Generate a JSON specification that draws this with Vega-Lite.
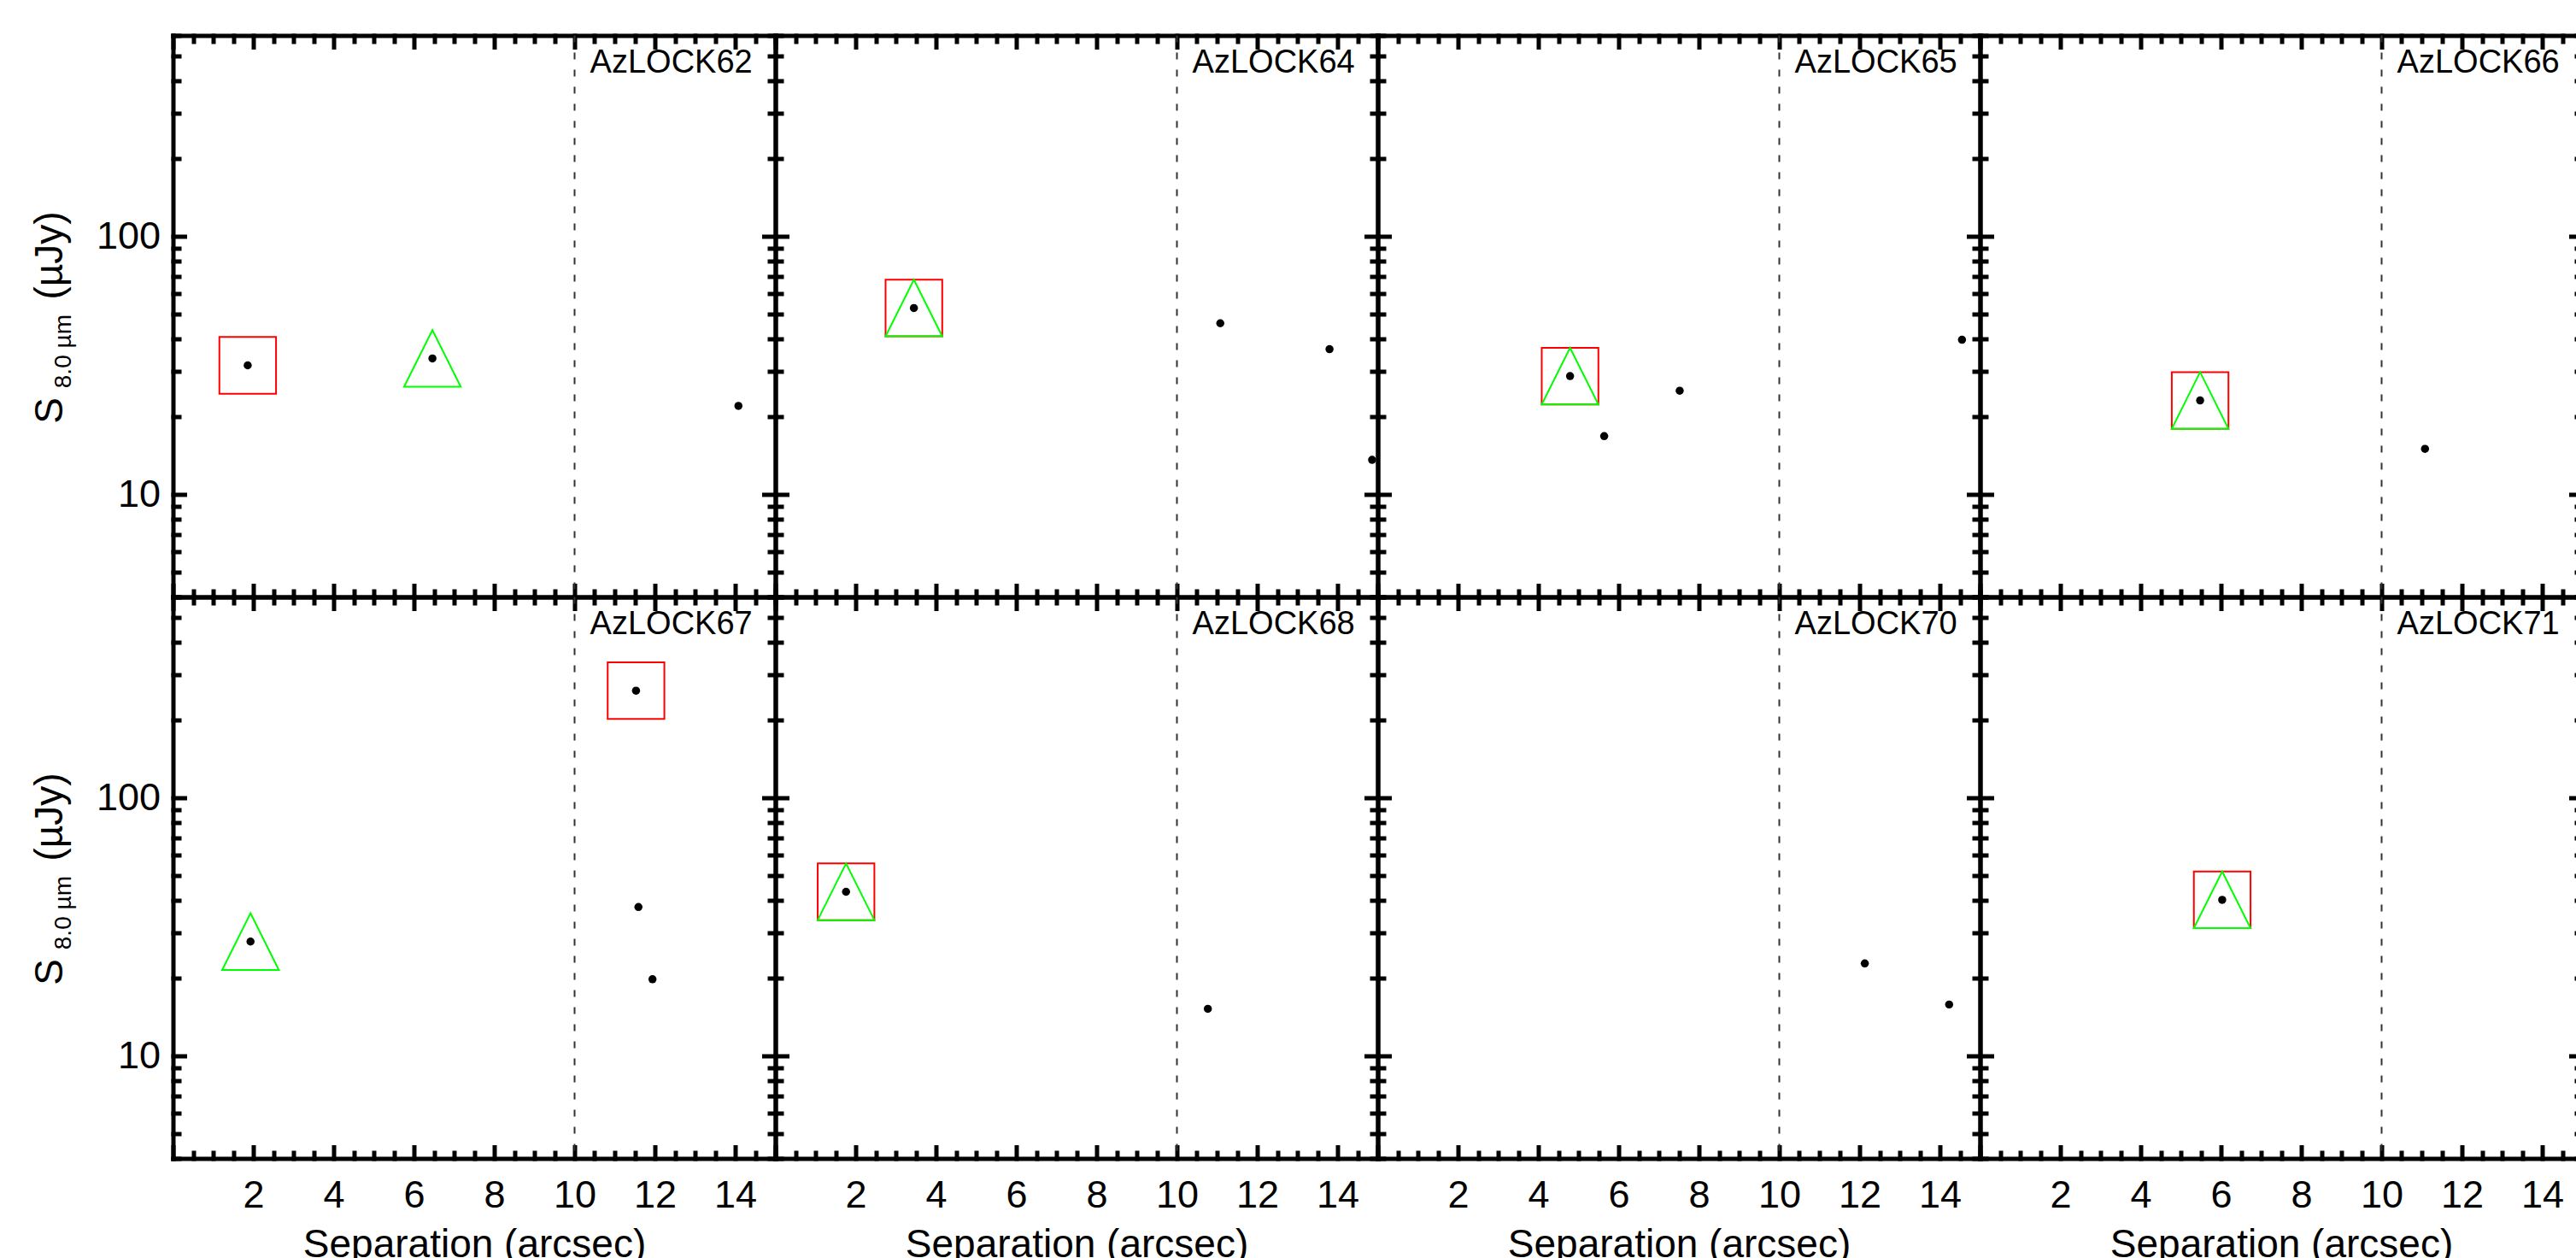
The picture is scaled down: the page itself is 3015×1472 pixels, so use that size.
{
  "$schema": "https://vega.github.io/schema/vega-lite/v6.json",
  "padding": {"left": 35.5, "top": 19.5, "right": 0, "bottom": 0},
  "background": "white",
  "columns": 4,
  "spacing": 0,
  "bounds": "flush",
  "config": {
    "view": {"stroke": null},
    "font": "Liberation Sans",
    "axis": {
      "grid": false,
      "domainColor": "black",
      "domainWidth": 5,
      "domainCap": "square",
      "tickColor": "black",
      "tickWidth": 5,
      "tickCap": "square",
      "labelColor": "black",
      "labelFont": "Liberation Sans",
      "labelFontSize": 45,
      "labelOverlap": false,
      "labelFlush": false,
      "titleFont": "Liberation Sans",
      "titleFontSize": 46,
      "titleFontWeight": "normal",
      "titleColor": "black"
    }
  },
  "datasets": {
    "panels": [
      {"panel": "AzLOCK62"}, {"panel": "AzLOCK64"}, {"panel": "AzLOCK65"}, {"panel": "AzLOCK66"},
      {"panel": "AzLOCK67"}, {"panel": "AzLOCK68"}, {"panel": "AzLOCK70"}, {"panel": "AzLOCK71"}
    ],
    "pts": [
      {"panel": "AzLOCK62", "sep": 1.86, "flux": 31.6, "sq": true, "tri": false},
      {"panel": "AzLOCK62", "sep": 6.46, "flux": 33.6, "sq": false, "tri": true},
      {"panel": "AzLOCK62", "sep": 14.08, "flux": 22.0, "sq": false, "tri": false},
      {"panel": "AzLOCK64", "sep": 3.45, "flux": 52.7, "sq": true, "tri": true},
      {"panel": "AzLOCK64", "sep": 11.08, "flux": 46.0, "sq": false, "tri": false},
      {"panel": "AzLOCK64", "sep": 13.8, "flux": 36.5, "sq": false, "tri": false},
      {"panel": "AzLOCK64", "sep": 14.86, "flux": 13.6, "sq": false, "tri": false},
      {"panel": "AzLOCK65", "sep": 4.79, "flux": 28.7, "sq": true, "tri": true},
      {"panel": "AzLOCK65", "sep": 5.64, "flux": 16.8, "sq": false, "tri": false},
      {"panel": "AzLOCK65", "sep": 7.52, "flux": 25.2, "sq": false, "tri": false},
      {"panel": "AzLOCK65", "sep": 14.55, "flux": 39.7, "sq": false, "tri": false},
      {"panel": "AzLOCK66", "sep": 5.48, "flux": 23.1, "sq": true, "tri": true},
      {"panel": "AzLOCK66", "sep": 11.08, "flux": 15.0, "sq": false, "tri": false},
      {"panel": "AzLOCK67", "sep": 1.93, "flux": 27.7, "sq": false, "tri": true},
      {"panel": "AzLOCK67", "sep": 11.53, "flux": 260, "sq": true, "tri": false},
      {"panel": "AzLOCK67", "sep": 11.59, "flux": 37.7, "sq": false, "tri": false},
      {"panel": "AzLOCK67", "sep": 11.94, "flux": 19.8, "sq": false, "tri": false},
      {"panel": "AzLOCK68", "sep": 1.76, "flux": 43.2, "sq": true, "tri": true},
      {"panel": "AzLOCK68", "sep": 10.77, "flux": 15.2, "sq": false, "tri": false},
      {"panel": "AzLOCK70", "sep": 12.13, "flux": 22.8, "sq": false, "tri": false},
      {"panel": "AzLOCK70", "sep": 14.23, "flux": 15.8, "sq": false, "tri": false},
      {"panel": "AzLOCK71", "sep": 6.03, "flux": 40.2, "sq": true, "tri": true}
    ]
  },
  "concat": [
    {
      "width": 705, "height": 657,
      "layer": [
        {"data": {"name": "panels"}, "transform": [{"filter": "datum.panel === 'AzLOCK62'"}],
         "mark": {"type": "rule", "strokeDash": [8, 12], "strokeWidth": 2, "color": "#333333"},
         "encoding": {"x": {"datum": 10, "type": "quantitative", "scale": {"domain": [0, 15], "nice": false, "zero": false}, "axis": null}}},
        {"data": {"name": "pts"}, "transform": [{"filter": "datum.panel === 'AzLOCK62' && datum.sq"}],
         "mark": {"type": "point", "shape": "square", "size": 4400, "filled": false, "stroke": "#ff0000", "strokeWidth": 2, "opacity": 1},
         "encoding": {
           "x": {"field": "sep", "type": "quantitative", "scale": {"domain": [0, 15], "nice": false, "zero": false},
                 "axis": {"orient": "bottom", "values": [0,0.5,1,1.5,2,2.5,3,3.5,4,4.5,5,5.5,6,6.5,7,7.5,8,8.5,9,9.5,10,10.5,11,11.5,12,12.5,13,13.5,14,14.5,15], "tickSize": {"condition": {"test": "datum.value % 2 === 0", "value": -13.5}, "value": -7}, "labels": false, "title": null}},
           "y": {"field": "flux", "type": "quantitative", "scale": {"type": "log", "domain": [4, 600], "nice": false},
                 "axis": {"orient": "left", "values": [4,5,6,7,8,9,10,20,30,40,50,60,70,80,90,100,200,300,400,500,600], "tickSize": {"condition": {"test": "datum.value === 10 || datum.value === 100", "value": -13.5}, "value": -7}, "labelExpr": "datum.value === 10 || datum.value === 100 ? '' + datum.value : ''", "labelPadding": 28.5, "title": null}}}},
        {"data": {"name": "pts"}, "transform": [{"filter": "datum.panel === 'AzLOCK62' && datum.tri"}],
         "mark": {"type": "point", "shape": "M0,-1L-1,1L1,1Z", "size": 4400, "filled": false, "stroke": "#00ff00", "strokeWidth": 2, "opacity": 1},
         "encoding": {
           "x": {"field": "sep", "type": "quantitative", "scale": {"domain": [0, 15], "nice": false, "zero": false},
                 "axis": {"orient": "top", "values": [0,0.5,1,1.5,2,2.5,3,3.5,4,4.5,5,5.5,6,6.5,7,7.5,8,8.5,9,9.5,10,10.5,11,11.5,12,12.5,13,13.5,14,14.5,15], "tickSize": {"condition": {"test": "datum.value % 2 === 0", "value": -13.5}, "value": -7}, "labels": false, "title": null}},
           "y": {"field": "flux", "type": "quantitative", "scale": {"type": "log", "domain": [4, 600], "nice": false},
                 "axis": {"orient": "right", "values": [4,5,6,7,8,9,10,20,30,40,50,60,70,80,90,100,200,300,400,500,600], "tickSize": {"condition": {"test": "datum.value === 10 || datum.value === 100", "value": -13.5}, "value": -7}, "labels": false, "title": null}}}},
        {"data": {"name": "pts"}, "transform": [{"filter": "datum.panel === 'AzLOCK62'"}],
         "mark": {"type": "circle", "size": 90, "color": "black", "opacity": 1},
         "encoding": {
           "x": {"field": "sep", "type": "quantitative", "scale": {"domain": [0, 15], "nice": false, "zero": false}, "axis": null},
           "y": {"field": "flux", "type": "quantitative", "scale": {"type": "log", "domain": [4, 600], "nice": false}, "axis": null}}},
        {"data": {"name": "panels"}, "transform": [{"filter": "datum.panel === 'AzLOCK62'"}],
         "mark": {"type": "text", "align": "right", "baseline": "alphabetic", "fontSize": 38, "font": "Liberation Sans", "color": "black"},
         "encoding": {
           "text": {"field": "panel"},
           "x": {"datum": 14.43, "type": "quantitative", "scale": {"domain": [0, 15], "nice": false, "zero": false}, "axis": null},
           "y": {"datum": 430, "type": "quantitative", "scale": {"type": "log", "domain": [4, 600], "nice": false}, "axis": null}}},
        {"data": {"values": [{}]},
         "mark": {"type": "text", "text": "S", "angle": 270, "align": "center", "baseline": "alphabetic", "fontSize": 46, "font": "Liberation Sans", "color": "black"},
         "encoding": {
           "x": {"datum": -2.745, "type": "quantitative", "scale": {"domain": [0, 15], "nice": false, "zero": false}, "axis": null},
           "y": {"datum": 21.1, "type": "quantitative", "scale": {"type": "log", "domain": [4, 600], "nice": false}, "axis": null}}},
        {"data": {"values": [{}]},
         "mark": {"type": "text", "text": "8.0 µm", "angle": 270, "align": "center", "baseline": "alphabetic", "fontSize": 28, "font": "Liberation Sans", "color": "black"},
         "encoding": {
           "x": {"datum": -2.553, "type": "quantitative", "scale": {"domain": [0, 15], "nice": false, "zero": false}, "axis": null},
           "y": {"datum": 35.8, "type": "quantitative", "scale": {"type": "log", "domain": [4, 600], "nice": false}, "axis": null}}},
        {"data": {"values": [{}]},
         "mark": {"type": "text", "text": "(µJy)", "angle": 270, "align": "center", "baseline": "alphabetic", "fontSize": 46, "font": "Liberation Sans", "color": "black"},
         "encoding": {
           "x": {"datum": -2.745, "type": "quantitative", "scale": {"domain": [0, 15], "nice": false, "zero": false}, "axis": null},
           "y": {"datum": 84.2, "type": "quantitative", "scale": {"type": "log", "domain": [4, 600], "nice": false}, "axis": null}}}
      ],
      "resolve": {"axis": {"x": "independent", "y": "independent"}}
    },
    {
      "width": 705, "height": 657,
      "layer": [
        {"data": {"name": "panels"}, "transform": [{"filter": "datum.panel === 'AzLOCK64'"}],
         "mark": {"type": "rule", "strokeDash": [8, 12], "strokeWidth": 2, "color": "#333333"},
         "encoding": {"x": {"datum": 10, "type": "quantitative", "scale": {"domain": [0, 15], "nice": false, "zero": false}, "axis": null}}},
        {"data": {"name": "pts"}, "transform": [{"filter": "datum.panel === 'AzLOCK64' && datum.sq"}],
         "mark": {"type": "point", "shape": "square", "size": 4400, "filled": false, "stroke": "#ff0000", "strokeWidth": 2, "opacity": 1},
         "encoding": {
           "x": {"field": "sep", "type": "quantitative", "scale": {"domain": [0, 15], "nice": false, "zero": false},
                 "axis": {"orient": "bottom", "values": [0,0.5,1,1.5,2,2.5,3,3.5,4,4.5,5,5.5,6,6.5,7,7.5,8,8.5,9,9.5,10,10.5,11,11.5,12,12.5,13,13.5,14,14.5,15], "tickSize": {"condition": {"test": "datum.value % 2 === 0", "value": -13.5}, "value": -7}, "labels": false, "title": null}},
           "y": {"field": "flux", "type": "quantitative", "scale": {"type": "log", "domain": [4, 600], "nice": false},
                 "axis": {"orient": "left", "values": [4,5,6,7,8,9,10,20,30,40,50,60,70,80,90,100,200,300,400,500,600], "tickSize": {"condition": {"test": "datum.value === 10 || datum.value === 100", "value": -13.5}, "value": -7}, "labels": false, "title": null}}}},
        {"data": {"name": "pts"}, "transform": [{"filter": "datum.panel === 'AzLOCK64' && datum.tri"}],
         "mark": {"type": "point", "shape": "M0,-1L-1,1L1,1Z", "size": 4400, "filled": false, "stroke": "#00ff00", "strokeWidth": 2, "opacity": 1},
         "encoding": {
           "x": {"field": "sep", "type": "quantitative", "scale": {"domain": [0, 15], "nice": false, "zero": false},
                 "axis": {"orient": "top", "values": [0,0.5,1,1.5,2,2.5,3,3.5,4,4.5,5,5.5,6,6.5,7,7.5,8,8.5,9,9.5,10,10.5,11,11.5,12,12.5,13,13.5,14,14.5,15], "tickSize": {"condition": {"test": "datum.value % 2 === 0", "value": -13.5}, "value": -7}, "labels": false, "title": null}},
           "y": {"field": "flux", "type": "quantitative", "scale": {"type": "log", "domain": [4, 600], "nice": false},
                 "axis": {"orient": "right", "values": [4,5,6,7,8,9,10,20,30,40,50,60,70,80,90,100,200,300,400,500,600], "tickSize": {"condition": {"test": "datum.value === 10 || datum.value === 100", "value": -13.5}, "value": -7}, "labels": false, "title": null}}}},
        {"data": {"name": "pts"}, "transform": [{"filter": "datum.panel === 'AzLOCK64'"}],
         "mark": {"type": "circle", "size": 90, "color": "black", "opacity": 1},
         "encoding": {
           "x": {"field": "sep", "type": "quantitative", "scale": {"domain": [0, 15], "nice": false, "zero": false}, "axis": null},
           "y": {"field": "flux", "type": "quantitative", "scale": {"type": "log", "domain": [4, 600], "nice": false}, "axis": null}}},
        {"data": {"name": "panels"}, "transform": [{"filter": "datum.panel === 'AzLOCK64'"}],
         "mark": {"type": "text", "align": "right", "baseline": "alphabetic", "fontSize": 38, "font": "Liberation Sans", "color": "black"},
         "encoding": {
           "text": {"field": "panel"},
           "x": {"datum": 14.43, "type": "quantitative", "scale": {"domain": [0, 15], "nice": false, "zero": false}, "axis": null},
           "y": {"datum": 430, "type": "quantitative", "scale": {"type": "log", "domain": [4, 600], "nice": false}, "axis": null}}}
      ],
      "resolve": {"axis": {"x": "independent", "y": "independent"}}
    },
    {
      "width": 705, "height": 657,
      "layer": [
        {"data": {"name": "panels"}, "transform": [{"filter": "datum.panel === 'AzLOCK65'"}],
         "mark": {"type": "rule", "strokeDash": [8, 12], "strokeWidth": 2, "color": "#333333"},
         "encoding": {"x": {"datum": 10, "type": "quantitative", "scale": {"domain": [0, 15], "nice": false, "zero": false}, "axis": null}}},
        {"data": {"name": "pts"}, "transform": [{"filter": "datum.panel === 'AzLOCK65' && datum.sq"}],
         "mark": {"type": "point", "shape": "square", "size": 4400, "filled": false, "stroke": "#ff0000", "strokeWidth": 2, "opacity": 1},
         "encoding": {
           "x": {"field": "sep", "type": "quantitative", "scale": {"domain": [0, 15], "nice": false, "zero": false},
                 "axis": {"orient": "bottom", "values": [0,0.5,1,1.5,2,2.5,3,3.5,4,4.5,5,5.5,6,6.5,7,7.5,8,8.5,9,9.5,10,10.5,11,11.5,12,12.5,13,13.5,14,14.5,15], "tickSize": {"condition": {"test": "datum.value % 2 === 0", "value": -13.5}, "value": -7}, "labels": false, "title": null}},
           "y": {"field": "flux", "type": "quantitative", "scale": {"type": "log", "domain": [4, 600], "nice": false},
                 "axis": {"orient": "left", "values": [4,5,6,7,8,9,10,20,30,40,50,60,70,80,90,100,200,300,400,500,600], "tickSize": {"condition": {"test": "datum.value === 10 || datum.value === 100", "value": -13.5}, "value": -7}, "labels": false, "title": null}}}},
        {"data": {"name": "pts"}, "transform": [{"filter": "datum.panel === 'AzLOCK65' && datum.tri"}],
         "mark": {"type": "point", "shape": "M0,-1L-1,1L1,1Z", "size": 4400, "filled": false, "stroke": "#00ff00", "strokeWidth": 2, "opacity": 1},
         "encoding": {
           "x": {"field": "sep", "type": "quantitative", "scale": {"domain": [0, 15], "nice": false, "zero": false},
                 "axis": {"orient": "top", "values": [0,0.5,1,1.5,2,2.5,3,3.5,4,4.5,5,5.5,6,6.5,7,7.5,8,8.5,9,9.5,10,10.5,11,11.5,12,12.5,13,13.5,14,14.5,15], "tickSize": {"condition": {"test": "datum.value % 2 === 0", "value": -13.5}, "value": -7}, "labels": false, "title": null}},
           "y": {"field": "flux", "type": "quantitative", "scale": {"type": "log", "domain": [4, 600], "nice": false},
                 "axis": {"orient": "right", "values": [4,5,6,7,8,9,10,20,30,40,50,60,70,80,90,100,200,300,400,500,600], "tickSize": {"condition": {"test": "datum.value === 10 || datum.value === 100", "value": -13.5}, "value": -7}, "labels": false, "title": null}}}},
        {"data": {"name": "pts"}, "transform": [{"filter": "datum.panel === 'AzLOCK65'"}],
         "mark": {"type": "circle", "size": 90, "color": "black", "opacity": 1},
         "encoding": {
           "x": {"field": "sep", "type": "quantitative", "scale": {"domain": [0, 15], "nice": false, "zero": false}, "axis": null},
           "y": {"field": "flux", "type": "quantitative", "scale": {"type": "log", "domain": [4, 600], "nice": false}, "axis": null}}},
        {"data": {"name": "panels"}, "transform": [{"filter": "datum.panel === 'AzLOCK65'"}],
         "mark": {"type": "text", "align": "right", "baseline": "alphabetic", "fontSize": 38, "font": "Liberation Sans", "color": "black"},
         "encoding": {
           "text": {"field": "panel"},
           "x": {"datum": 14.43, "type": "quantitative", "scale": {"domain": [0, 15], "nice": false, "zero": false}, "axis": null},
           "y": {"datum": 430, "type": "quantitative", "scale": {"type": "log", "domain": [4, 600], "nice": false}, "axis": null}}}
      ],
      "resolve": {"axis": {"x": "independent", "y": "independent"}}
    },
    {
      "width": 705, "height": 657,
      "layer": [
        {"data": {"name": "panels"}, "transform": [{"filter": "datum.panel === 'AzLOCK66'"}],
         "mark": {"type": "rule", "strokeDash": [8, 12], "strokeWidth": 2, "color": "#333333"},
         "encoding": {"x": {"datum": 10, "type": "quantitative", "scale": {"domain": [0, 15], "nice": false, "zero": false}, "axis": null}}},
        {"data": {"name": "pts"}, "transform": [{"filter": "datum.panel === 'AzLOCK66' && datum.sq"}],
         "mark": {"type": "point", "shape": "square", "size": 4400, "filled": false, "stroke": "#ff0000", "strokeWidth": 2, "opacity": 1},
         "encoding": {
           "x": {"field": "sep", "type": "quantitative", "scale": {"domain": [0, 15], "nice": false, "zero": false},
                 "axis": {"orient": "bottom", "values": [0,0.5,1,1.5,2,2.5,3,3.5,4,4.5,5,5.5,6,6.5,7,7.5,8,8.5,9,9.5,10,10.5,11,11.5,12,12.5,13,13.5,14,14.5,15], "tickSize": {"condition": {"test": "datum.value % 2 === 0", "value": -13.5}, "value": -7}, "labels": false, "title": null}},
           "y": {"field": "flux", "type": "quantitative", "scale": {"type": "log", "domain": [4, 600], "nice": false},
                 "axis": {"orient": "left", "values": [4,5,6,7,8,9,10,20,30,40,50,60,70,80,90,100,200,300,400,500,600], "tickSize": {"condition": {"test": "datum.value === 10 || datum.value === 100", "value": -13.5}, "value": -7}, "labels": false, "title": null}}}},
        {"data": {"name": "pts"}, "transform": [{"filter": "datum.panel === 'AzLOCK66' && datum.tri"}],
         "mark": {"type": "point", "shape": "M0,-1L-1,1L1,1Z", "size": 4400, "filled": false, "stroke": "#00ff00", "strokeWidth": 2, "opacity": 1},
         "encoding": {
           "x": {"field": "sep", "type": "quantitative", "scale": {"domain": [0, 15], "nice": false, "zero": false},
                 "axis": {"orient": "top", "values": [0,0.5,1,1.5,2,2.5,3,3.5,4,4.5,5,5.5,6,6.5,7,7.5,8,8.5,9,9.5,10,10.5,11,11.5,12,12.5,13,13.5,14,14.5,15], "tickSize": {"condition": {"test": "datum.value % 2 === 0", "value": -13.5}, "value": -7}, "labels": false, "title": null}},
           "y": {"field": "flux", "type": "quantitative", "scale": {"type": "log", "domain": [4, 600], "nice": false},
                 "axis": {"orient": "right", "values": [4,5,6,7,8,9,10,20,30,40,50,60,70,80,90,100,200,300,400,500,600], "tickSize": {"condition": {"test": "datum.value === 10 || datum.value === 100", "value": -13.5}, "value": -7}, "labels": false, "title": null}}}},
        {"data": {"name": "pts"}, "transform": [{"filter": "datum.panel === 'AzLOCK66'"}],
         "mark": {"type": "circle", "size": 90, "color": "black", "opacity": 1},
         "encoding": {
           "x": {"field": "sep", "type": "quantitative", "scale": {"domain": [0, 15], "nice": false, "zero": false}, "axis": null},
           "y": {"field": "flux", "type": "quantitative", "scale": {"type": "log", "domain": [4, 600], "nice": false}, "axis": null}}},
        {"data": {"name": "panels"}, "transform": [{"filter": "datum.panel === 'AzLOCK66'"}],
         "mark": {"type": "text", "align": "right", "baseline": "alphabetic", "fontSize": 38, "font": "Liberation Sans", "color": "black"},
         "encoding": {
           "text": {"field": "panel"},
           "x": {"datum": 14.43, "type": "quantitative", "scale": {"domain": [0, 15], "nice": false, "zero": false}, "axis": null},
           "y": {"datum": 430, "type": "quantitative", "scale": {"type": "log", "domain": [4, 600], "nice": false}, "axis": null}}}
      ],
      "resolve": {"axis": {"x": "independent", "y": "independent"}}
    },
    {
      "width": 705, "height": 657,
      "layer": [
        {"data": {"name": "panels"}, "transform": [{"filter": "datum.panel === 'AzLOCK67'"}],
         "mark": {"type": "rule", "strokeDash": [8, 12], "strokeWidth": 2, "color": "#333333"},
         "encoding": {"x": {"datum": 10, "type": "quantitative", "scale": {"domain": [0, 15], "nice": false, "zero": false}, "axis": null}}},
        {"data": {"name": "pts"}, "transform": [{"filter": "datum.panel === 'AzLOCK67' && datum.sq"}],
         "mark": {"type": "point", "shape": "square", "size": 4400, "filled": false, "stroke": "#ff0000", "strokeWidth": 2, "opacity": 1},
         "encoding": {
           "x": {"field": "sep", "type": "quantitative", "scale": {"domain": [0, 15], "nice": false, "zero": false},
                 "axis": {"orient": "bottom", "values": [0,0.5,1,1.5,2,2.5,3,3.5,4,4.5,5,5.5,6,6.5,7,7.5,8,8.5,9,9.5,10,10.5,11,11.5,12,12.5,13,13.5,14,14.5,15], "tickSize": {"condition": {"test": "datum.value % 2 === 0", "value": -13.5}, "value": -7}, "labelExpr": "datum.value % 2 === 0 && datum.value > 0 && datum.value < 15 ? '' + datum.value : ''", "labelPadding": 34, "title": "Separation (arcsec)", "titlePadding": 7}},
           "y": {"field": "flux", "type": "quantitative", "scale": {"type": "log", "domain": [4, 600], "nice": false},
                 "axis": {"orient": "left", "values": [4,5,6,7,8,9,10,20,30,40,50,60,70,80,90,100,200,300,400,500,600], "tickSize": {"condition": {"test": "datum.value === 10 || datum.value === 100", "value": -13.5}, "value": -7}, "labelExpr": "datum.value === 10 || datum.value === 100 ? '' + datum.value : ''", "labelPadding": 28.5, "title": null}}}},
        {"data": {"name": "pts"}, "transform": [{"filter": "datum.panel === 'AzLOCK67' && datum.tri"}],
         "mark": {"type": "point", "shape": "M0,-1L-1,1L1,1Z", "size": 4400, "filled": false, "stroke": "#00ff00", "strokeWidth": 2, "opacity": 1},
         "encoding": {
           "x": {"field": "sep", "type": "quantitative", "scale": {"domain": [0, 15], "nice": false, "zero": false},
                 "axis": {"orient": "top", "values": [0,0.5,1,1.5,2,2.5,3,3.5,4,4.5,5,5.5,6,6.5,7,7.5,8,8.5,9,9.5,10,10.5,11,11.5,12,12.5,13,13.5,14,14.5,15], "tickSize": {"condition": {"test": "datum.value % 2 === 0", "value": -13.5}, "value": -7}, "labels": false, "title": null}},
           "y": {"field": "flux", "type": "quantitative", "scale": {"type": "log", "domain": [4, 600], "nice": false},
                 "axis": {"orient": "right", "values": [4,5,6,7,8,9,10,20,30,40,50,60,70,80,90,100,200,300,400,500,600], "tickSize": {"condition": {"test": "datum.value === 10 || datum.value === 100", "value": -13.5}, "value": -7}, "labels": false, "title": null}}}},
        {"data": {"name": "pts"}, "transform": [{"filter": "datum.panel === 'AzLOCK67'"}],
         "mark": {"type": "circle", "size": 90, "color": "black", "opacity": 1},
         "encoding": {
           "x": {"field": "sep", "type": "quantitative", "scale": {"domain": [0, 15], "nice": false, "zero": false}, "axis": null},
           "y": {"field": "flux", "type": "quantitative", "scale": {"type": "log", "domain": [4, 600], "nice": false}, "axis": null}}},
        {"data": {"name": "panels"}, "transform": [{"filter": "datum.panel === 'AzLOCK67'"}],
         "mark": {"type": "text", "align": "right", "baseline": "alphabetic", "fontSize": 38, "font": "Liberation Sans", "color": "black"},
         "encoding": {
           "text": {"field": "panel"},
           "x": {"datum": 14.43, "type": "quantitative", "scale": {"domain": [0, 15], "nice": false, "zero": false}, "axis": null},
           "y": {"datum": 430, "type": "quantitative", "scale": {"type": "log", "domain": [4, 600], "nice": false}, "axis": null}}},
        {"data": {"values": [{}]},
         "mark": {"type": "text", "text": "S", "angle": 270, "align": "center", "baseline": "alphabetic", "fontSize": 46, "font": "Liberation Sans", "color": "black"},
         "encoding": {
           "x": {"datum": -2.745, "type": "quantitative", "scale": {"domain": [0, 15], "nice": false, "zero": false}, "axis": null},
           "y": {"datum": 21.1, "type": "quantitative", "scale": {"type": "log", "domain": [4, 600], "nice": false}, "axis": null}}},
        {"data": {"values": [{}]},
         "mark": {"type": "text", "text": "8.0 µm", "angle": 270, "align": "center", "baseline": "alphabetic", "fontSize": 28, "font": "Liberation Sans", "color": "black"},
         "encoding": {
           "x": {"datum": -2.553, "type": "quantitative", "scale": {"domain": [0, 15], "nice": false, "zero": false}, "axis": null},
           "y": {"datum": 35.8, "type": "quantitative", "scale": {"type": "log", "domain": [4, 600], "nice": false}, "axis": null}}},
        {"data": {"values": [{}]},
         "mark": {"type": "text", "text": "(µJy)", "angle": 270, "align": "center", "baseline": "alphabetic", "fontSize": 46, "font": "Liberation Sans", "color": "black"},
         "encoding": {
           "x": {"datum": -2.745, "type": "quantitative", "scale": {"domain": [0, 15], "nice": false, "zero": false}, "axis": null},
           "y": {"datum": 84.2, "type": "quantitative", "scale": {"type": "log", "domain": [4, 600], "nice": false}, "axis": null}}}
      ],
      "resolve": {"axis": {"x": "independent", "y": "independent"}}
    },
    {
      "width": 705, "height": 657,
      "layer": [
        {"data": {"name": "panels"}, "transform": [{"filter": "datum.panel === 'AzLOCK68'"}],
         "mark": {"type": "rule", "strokeDash": [8, 12], "strokeWidth": 2, "color": "#333333"},
         "encoding": {"x": {"datum": 10, "type": "quantitative", "scale": {"domain": [0, 15], "nice": false, "zero": false}, "axis": null}}},
        {"data": {"name": "pts"}, "transform": [{"filter": "datum.panel === 'AzLOCK68' && datum.sq"}],
         "mark": {"type": "point", "shape": "square", "size": 4400, "filled": false, "stroke": "#ff0000", "strokeWidth": 2, "opacity": 1},
         "encoding": {
           "x": {"field": "sep", "type": "quantitative", "scale": {"domain": [0, 15], "nice": false, "zero": false},
                 "axis": {"orient": "bottom", "values": [0,0.5,1,1.5,2,2.5,3,3.5,4,4.5,5,5.5,6,6.5,7,7.5,8,8.5,9,9.5,10,10.5,11,11.5,12,12.5,13,13.5,14,14.5,15], "tickSize": {"condition": {"test": "datum.value % 2 === 0", "value": -13.5}, "value": -7}, "labelExpr": "datum.value % 2 === 0 && datum.value > 0 && datum.value < 15 ? '' + datum.value : ''", "labelPadding": 34, "title": "Separation (arcsec)", "titlePadding": 7}},
           "y": {"field": "flux", "type": "quantitative", "scale": {"type": "log", "domain": [4, 600], "nice": false},
                 "axis": {"orient": "left", "values": [4,5,6,7,8,9,10,20,30,40,50,60,70,80,90,100,200,300,400,500,600], "tickSize": {"condition": {"test": "datum.value === 10 || datum.value === 100", "value": -13.5}, "value": -7}, "labels": false, "title": null}}}},
        {"data": {"name": "pts"}, "transform": [{"filter": "datum.panel === 'AzLOCK68' && datum.tri"}],
         "mark": {"type": "point", "shape": "M0,-1L-1,1L1,1Z", "size": 4400, "filled": false, "stroke": "#00ff00", "strokeWidth": 2, "opacity": 1},
         "encoding": {
           "x": {"field": "sep", "type": "quantitative", "scale": {"domain": [0, 15], "nice": false, "zero": false},
                 "axis": {"orient": "top", "values": [0,0.5,1,1.5,2,2.5,3,3.5,4,4.5,5,5.5,6,6.5,7,7.5,8,8.5,9,9.5,10,10.5,11,11.5,12,12.5,13,13.5,14,14.5,15], "tickSize": {"condition": {"test": "datum.value % 2 === 0", "value": -13.5}, "value": -7}, "labels": false, "title": null}},
           "y": {"field": "flux", "type": "quantitative", "scale": {"type": "log", "domain": [4, 600], "nice": false},
                 "axis": {"orient": "right", "values": [4,5,6,7,8,9,10,20,30,40,50,60,70,80,90,100,200,300,400,500,600], "tickSize": {"condition": {"test": "datum.value === 10 || datum.value === 100", "value": -13.5}, "value": -7}, "labels": false, "title": null}}}},
        {"data": {"name": "pts"}, "transform": [{"filter": "datum.panel === 'AzLOCK68'"}],
         "mark": {"type": "circle", "size": 90, "color": "black", "opacity": 1},
         "encoding": {
           "x": {"field": "sep", "type": "quantitative", "scale": {"domain": [0, 15], "nice": false, "zero": false}, "axis": null},
           "y": {"field": "flux", "type": "quantitative", "scale": {"type": "log", "domain": [4, 600], "nice": false}, "axis": null}}},
        {"data": {"name": "panels"}, "transform": [{"filter": "datum.panel === 'AzLOCK68'"}],
         "mark": {"type": "text", "align": "right", "baseline": "alphabetic", "fontSize": 38, "font": "Liberation Sans", "color": "black"},
         "encoding": {
           "text": {"field": "panel"},
           "x": {"datum": 14.43, "type": "quantitative", "scale": {"domain": [0, 15], "nice": false, "zero": false}, "axis": null},
           "y": {"datum": 430, "type": "quantitative", "scale": {"type": "log", "domain": [4, 600], "nice": false}, "axis": null}}}
      ],
      "resolve": {"axis": {"x": "independent", "y": "independent"}}
    },
    {
      "width": 705, "height": 657,
      "layer": [
        {"data": {"name": "panels"}, "transform": [{"filter": "datum.panel === 'AzLOCK70'"}],
         "mark": {"type": "rule", "strokeDash": [8, 12], "strokeWidth": 2, "color": "#333333"},
         "encoding": {"x": {"datum": 10, "type": "quantitative", "scale": {"domain": [0, 15], "nice": false, "zero": false}, "axis": null}}},
        {"data": {"name": "pts"}, "transform": [{"filter": "datum.panel === 'AzLOCK70' && datum.sq"}],
         "mark": {"type": "point", "shape": "square", "size": 4400, "filled": false, "stroke": "#ff0000", "strokeWidth": 2, "opacity": 1},
         "encoding": {
           "x": {"field": "sep", "type": "quantitative", "scale": {"domain": [0, 15], "nice": false, "zero": false},
                 "axis": {"orient": "bottom", "values": [0,0.5,1,1.5,2,2.5,3,3.5,4,4.5,5,5.5,6,6.5,7,7.5,8,8.5,9,9.5,10,10.5,11,11.5,12,12.5,13,13.5,14,14.5,15], "tickSize": {"condition": {"test": "datum.value % 2 === 0", "value": -13.5}, "value": -7}, "labelExpr": "datum.value % 2 === 0 && datum.value > 0 && datum.value < 15 ? '' + datum.value : ''", "labelPadding": 34, "title": "Separation (arcsec)", "titlePadding": 7}},
           "y": {"field": "flux", "type": "quantitative", "scale": {"type": "log", "domain": [4, 600], "nice": false},
                 "axis": {"orient": "left", "values": [4,5,6,7,8,9,10,20,30,40,50,60,70,80,90,100,200,300,400,500,600], "tickSize": {"condition": {"test": "datum.value === 10 || datum.value === 100", "value": -13.5}, "value": -7}, "labels": false, "title": null}}}},
        {"data": {"name": "pts"}, "transform": [{"filter": "datum.panel === 'AzLOCK70' && datum.tri"}],
         "mark": {"type": "point", "shape": "M0,-1L-1,1L1,1Z", "size": 4400, "filled": false, "stroke": "#00ff00", "strokeWidth": 2, "opacity": 1},
         "encoding": {
           "x": {"field": "sep", "type": "quantitative", "scale": {"domain": [0, 15], "nice": false, "zero": false},
                 "axis": {"orient": "top", "values": [0,0.5,1,1.5,2,2.5,3,3.5,4,4.5,5,5.5,6,6.5,7,7.5,8,8.5,9,9.5,10,10.5,11,11.5,12,12.5,13,13.5,14,14.5,15], "tickSize": {"condition": {"test": "datum.value % 2 === 0", "value": -13.5}, "value": -7}, "labels": false, "title": null}},
           "y": {"field": "flux", "type": "quantitative", "scale": {"type": "log", "domain": [4, 600], "nice": false},
                 "axis": {"orient": "right", "values": [4,5,6,7,8,9,10,20,30,40,50,60,70,80,90,100,200,300,400,500,600], "tickSize": {"condition": {"test": "datum.value === 10 || datum.value === 100", "value": -13.5}, "value": -7}, "labels": false, "title": null}}}},
        {"data": {"name": "pts"}, "transform": [{"filter": "datum.panel === 'AzLOCK70'"}],
         "mark": {"type": "circle", "size": 90, "color": "black", "opacity": 1},
         "encoding": {
           "x": {"field": "sep", "type": "quantitative", "scale": {"domain": [0, 15], "nice": false, "zero": false}, "axis": null},
           "y": {"field": "flux", "type": "quantitative", "scale": {"type": "log", "domain": [4, 600], "nice": false}, "axis": null}}},
        {"data": {"name": "panels"}, "transform": [{"filter": "datum.panel === 'AzLOCK70'"}],
         "mark": {"type": "text", "align": "right", "baseline": "alphabetic", "fontSize": 38, "font": "Liberation Sans", "color": "black"},
         "encoding": {
           "text": {"field": "panel"},
           "x": {"datum": 14.43, "type": "quantitative", "scale": {"domain": [0, 15], "nice": false, "zero": false}, "axis": null},
           "y": {"datum": 430, "type": "quantitative", "scale": {"type": "log", "domain": [4, 600], "nice": false}, "axis": null}}}
      ],
      "resolve": {"axis": {"x": "independent", "y": "independent"}}
    },
    {
      "width": 705, "height": 657,
      "layer": [
        {"data": {"name": "panels"}, "transform": [{"filter": "datum.panel === 'AzLOCK71'"}],
         "mark": {"type": "rule", "strokeDash": [8, 12], "strokeWidth": 2, "color": "#333333"},
         "encoding": {"x": {"datum": 10, "type": "quantitative", "scale": {"domain": [0, 15], "nice": false, "zero": false}, "axis": null}}},
        {"data": {"name": "pts"}, "transform": [{"filter": "datum.panel === 'AzLOCK71' && datum.sq"}],
         "mark": {"type": "point", "shape": "square", "size": 4400, "filled": false, "stroke": "#ff0000", "strokeWidth": 2, "opacity": 1},
         "encoding": {
           "x": {"field": "sep", "type": "quantitative", "scale": {"domain": [0, 15], "nice": false, "zero": false},
                 "axis": {"orient": "bottom", "values": [0,0.5,1,1.5,2,2.5,3,3.5,4,4.5,5,5.5,6,6.5,7,7.5,8,8.5,9,9.5,10,10.5,11,11.5,12,12.5,13,13.5,14,14.5,15], "tickSize": {"condition": {"test": "datum.value % 2 === 0", "value": -13.5}, "value": -7}, "labelExpr": "datum.value % 2 === 0 && datum.value > 0 && datum.value < 15 ? '' + datum.value : ''", "labelPadding": 34, "title": "Separation (arcsec)", "titlePadding": 7}},
           "y": {"field": "flux", "type": "quantitative", "scale": {"type": "log", "domain": [4, 600], "nice": false},
                 "axis": {"orient": "left", "values": [4,5,6,7,8,9,10,20,30,40,50,60,70,80,90,100,200,300,400,500,600], "tickSize": {"condition": {"test": "datum.value === 10 || datum.value === 100", "value": -13.5}, "value": -7}, "labels": false, "title": null}}}},
        {"data": {"name": "pts"}, "transform": [{"filter": "datum.panel === 'AzLOCK71' && datum.tri"}],
         "mark": {"type": "point", "shape": "M0,-1L-1,1L1,1Z", "size": 4400, "filled": false, "stroke": "#00ff00", "strokeWidth": 2, "opacity": 1},
         "encoding": {
           "x": {"field": "sep", "type": "quantitative", "scale": {"domain": [0, 15], "nice": false, "zero": false},
                 "axis": {"orient": "top", "values": [0,0.5,1,1.5,2,2.5,3,3.5,4,4.5,5,5.5,6,6.5,7,7.5,8,8.5,9,9.5,10,10.5,11,11.5,12,12.5,13,13.5,14,14.5,15], "tickSize": {"condition": {"test": "datum.value % 2 === 0", "value": -13.5}, "value": -7}, "labels": false, "title": null}},
           "y": {"field": "flux", "type": "quantitative", "scale": {"type": "log", "domain": [4, 600], "nice": false},
                 "axis": {"orient": "right", "values": [4,5,6,7,8,9,10,20,30,40,50,60,70,80,90,100,200,300,400,500,600], "tickSize": {"condition": {"test": "datum.value === 10 || datum.value === 100", "value": -13.5}, "value": -7}, "labels": false, "title": null}}}},
        {"data": {"name": "pts"}, "transform": [{"filter": "datum.panel === 'AzLOCK71'"}],
         "mark": {"type": "circle", "size": 90, "color": "black", "opacity": 1},
         "encoding": {
           "x": {"field": "sep", "type": "quantitative", "scale": {"domain": [0, 15], "nice": false, "zero": false}, "axis": null},
           "y": {"field": "flux", "type": "quantitative", "scale": {"type": "log", "domain": [4, 600], "nice": false}, "axis": null}}},
        {"data": {"name": "panels"}, "transform": [{"filter": "datum.panel === 'AzLOCK71'"}],
         "mark": {"type": "text", "align": "right", "baseline": "alphabetic", "fontSize": 38, "font": "Liberation Sans", "color": "black"},
         "encoding": {
           "text": {"field": "panel"},
           "x": {"datum": 14.43, "type": "quantitative", "scale": {"domain": [0, 15], "nice": false, "zero": false}, "axis": null},
           "y": {"datum": 430, "type": "quantitative", "scale": {"type": "log", "domain": [4, 600], "nice": false}, "axis": null}}}
      ],
      "resolve": {"axis": {"x": "independent", "y": "independent"}}
    }
  ]
}
